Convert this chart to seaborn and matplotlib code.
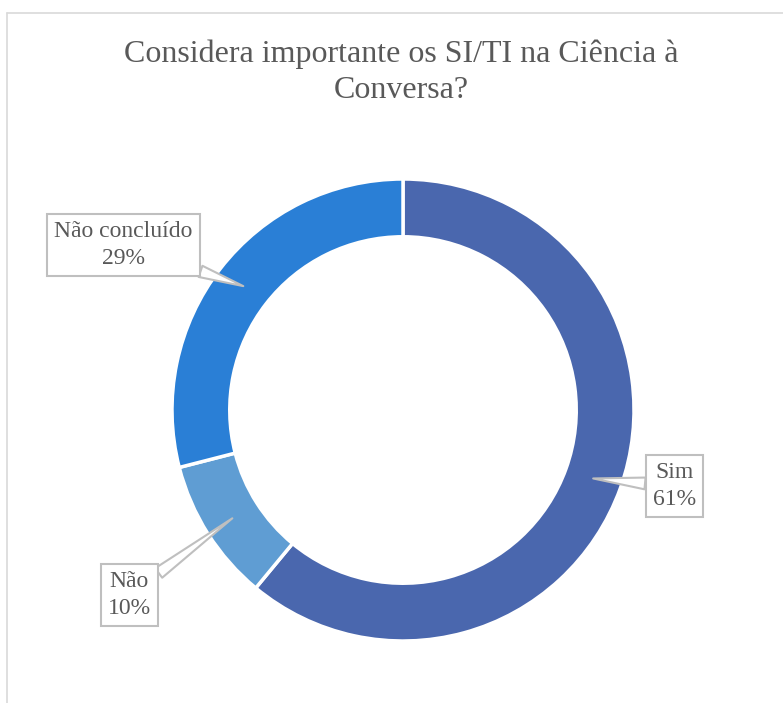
import numpy as np
import matplotlib
matplotlib.use("Agg")
import matplotlib.pyplot as plt
import seaborn as sns
from matplotlib.lines import Line2D

# Data
categories = ["Sim", "Não", "Não concluído"]
shares = [61, 10, 29]
colors = ["#4a67ae", "#5f9dd3", "#2a7fd6"]
title = "Considera importante os SI/TI na Ciência à\nConversa?"

# label box centres (data units, relative to donut radius)
label_pos = [(1.175, -0.33), (-1.185, -0.80), (-1.21, 0.715)]

sns.set_theme(style="white")
plt.rcParams['font.family'] = ['Liberation Serif', 'DejaVu Serif']

fig = plt.figure(figsize=(7.83, 7.03), dpi=100)
W, H = 783, 703
cx, cy, R = 403, 410, 231
ax = fig.add_axes([(cx - R) / W, (H - cy - R) / H, 2 * R / W, 2 * R / H])

ring = 0.25
wedges, _ = ax.pie(shares, colors=colors, startangle=90, counterclock=False,
                   radius=1, wedgeprops=dict(width=ring, edgecolor="white", linewidth=2.5))
ax.set_xlim(-1, 1)
ax.set_ylim(-1, 1)
ax.set_aspect("equal")
ax.axis("off")

# callout labels pointing at the middle of each ring segment
total = sum(shares)
for w, cat, val, pos in zip(wedges, categories, shares, label_pos):
    mid = np.deg2rad((w.theta1 + w.theta2) / 2)
    rm = 1 - ring / 2
    tip = (rm * np.cos(mid), rm * np.sin(mid))
    ax.annotate(f"{cat}\n{round(val / total * 100)}%", xy=tip, xytext=pos,
                ha="center", va="center", fontsize=17, color="#595959",
                linespacing=1.35, annotation_clip=False,
                bbox=dict(boxstyle="square,pad=0.3", fc="white", ec="#bfbfbf", lw=1.5),
                arrowprops=dict(arrowstyle="wedge,tail_width=0.5", fc="white",
                                ec="#bfbfbf", lw=1.5, shrinkA=0, shrinkB=0))

fig.text(0.513, 1 - 72 / H, title, ha="center", va="center", fontsize=23,
         color="#595959", linespacing=1.32)

# chart frame (only top and left edges visible)
fig.add_artist(Line2D([6.5 / W, 6.5 / W], [0, 1 - 13 / H], color="#d9d9d9", lw=1.2,
                      transform=fig.transFigure))
fig.add_artist(Line2D([6.5 / W, 1], [1 - 13 / H, 1 - 13 / H], color="#d9d9d9", lw=1.2,
                      transform=fig.transFigure))

fig.savefig("out.png", dpi=100, facecolor="white")
